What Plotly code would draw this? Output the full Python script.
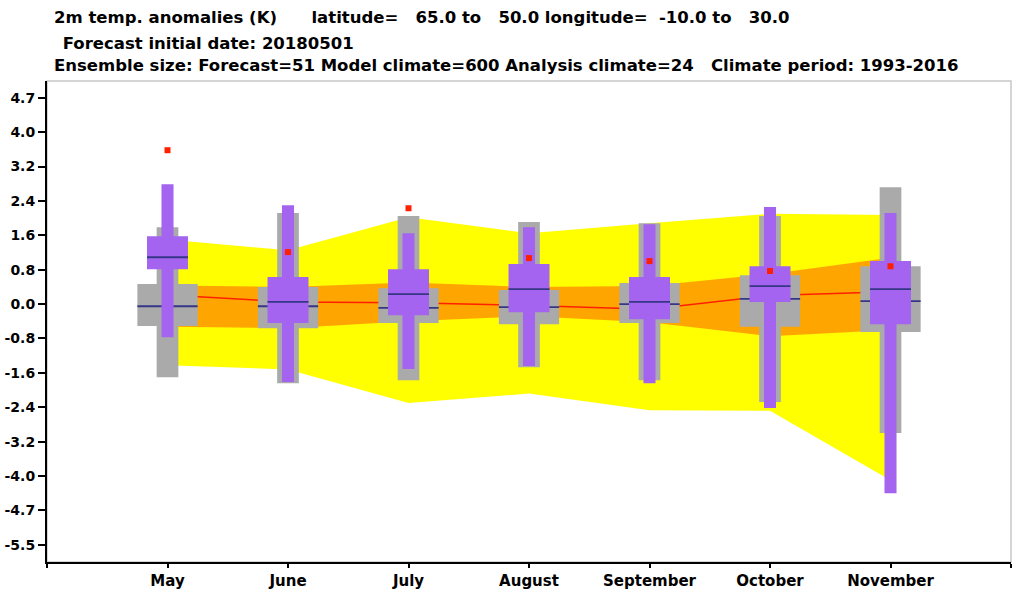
import plotly.graph_objects as go

# ---------------- data ----------------
months = ["May", "June", "July", "August", "September", "October", "November"]
month_pos = [1, 2, 3, 4, 5, 6, 7]

# analysis climate (shading): min/max, quartiles, median
ana_max = [1.50, 1.25, 2.02, 1.65, 1.88, 2.10, 2.07]
ana_q75 = [0.43, 0.40, 0.50, 0.40, 0.42, 0.70, 1.08]
ana_med = [0.21, 0.05, 0.03, -0.03, -0.12, 0.20, 0.29]
ana_q25 = [-0.53, -0.56, -0.40, -0.28, -0.42, -0.75, -0.60]
ana_min = [-1.42, -1.52, -2.30, -2.08, -2.47, -2.48, -4.10]

# model climate (grey boxes)
mc_max = [1.79, 2.12, 2.05, 1.91, 1.88, 2.05, 2.72]
mc_q75 = [0.47, 0.40, 0.37, 0.33, 0.49, 0.67, 0.88]
mc_med = [-0.05, -0.05, -0.09, -0.07, 0.00, 0.12, 0.07]
mc_q25 = [-0.51, -0.56, -0.44, -0.47, -0.44, -0.53, -0.65]
mc_min = [-1.70, -1.84, -1.77, -1.47, -1.77, -2.28, -3.00]

# forecast (purple boxes)
fc_max = [2.79, 2.30, 1.65, 1.79, 1.86, 2.26, 2.12]
fc_q75 = [1.58, 0.63, 0.81, 0.93, 0.63, 0.88, 1.00]
fc_med = [1.09, 0.05, 0.23, 0.35, 0.05, 0.42, 0.35]
fc_q25 = [0.81, -0.44, -0.26, -0.19, -0.35, 0.05, -0.47]
fc_min = [-0.77, -1.81, -1.51, -1.44, -1.84, -2.42, -4.40]

# verifying analysis (red squares)
obs = [3.58, 1.21, 2.23, 1.07, 1.00, 0.77, 0.88]

y_tickvals = [-5.6, -4.8, -4.0, -3.2, -2.4, -1.6, -0.8, 0.0, 0.8, 1.6, 2.4, 3.2, 4.0, 4.8]
y_ticktext = ["-5.5", "-4.7", "-4.0", "-3.2", "-2.4", "-1.6", "-0.8", "0.0",
              "0.8", "1.6", "2.4", "3.2", "4.0", "4.7"]

title_lines = [
    "2m temp. anomalies (K)      latitude=   65.0 to   50.0 longitude=  -10.0 to   30.0",
    " Forecast initial date: 20180501",
    "Ensemble size: Forecast=51 Model climate=600 Analysis climate=24   Climate period: 1993-2016",
]

# ---------------- style ----------------
W, H = 1020, 598
ML, MR, MT, MB = 47, 9, 81, 36
PW, PH = W - ML - MR, H - MT - MB
FONT = "DejaVu Sans"
GREY = "#aaaaaa"
PURPLE = "#a464f0"
MEDCOL = "#363686"
YELLOW = "#ffff00"
ORANGE = "#ffa500"
RED = "#ff2000"
W_GREY_WIDE, W_GREY_NARROW = 0.50, 0.18
W_PUR_WIDE, W_PUR_NARROW = 0.34, 0.10


def rects(pos, lo, hi, width):
    xs, ys = [], []
    for p, a, b in zip(pos, lo, hi):
        x0, x1 = p - width / 2, p + width / 2
        xs += [x0, x1, x1, x0, x0, None]
        ys += [a, a, b, b, a, None]
    return xs, ys


def seg(pos, vals, width):
    xs, ys = [], []
    for p, v in zip(pos, vals):
        xs += [p - width / 2, p + width / 2, None]
        ys += [v, v, None]
    return xs, ys


def box_trace(pos, lo, hi, width, color):
    xs, ys = rects(pos, lo, hi, width)
    return go.Scatter(x=xs, y=ys, mode="lines", fill="toself", fillcolor=color,
                      line=dict(width=0, color=color), hoverinfo="skip",
                      showlegend=False)


fig = go.Figure()

# analysis climate envelopes
fig.add_trace(go.Scatter(x=month_pos + month_pos[::-1], y=ana_max + ana_min[::-1],
                         fill="toself", fillcolor=YELLOW, line=dict(width=0),
                         mode="lines", hoverinfo="skip", showlegend=False))
fig.add_trace(go.Scatter(x=month_pos + month_pos[::-1], y=ana_q75 + ana_q25[::-1],
                         fill="toself", fillcolor=ORANGE, line=dict(width=0),
                         mode="lines", hoverinfo="skip", showlegend=False))
fig.add_trace(go.Scatter(x=month_pos, y=ana_med, mode="lines",
                         line=dict(color=RED, width=1.5), showlegend=False))

# model climate boxes
fig.add_trace(box_trace(month_pos, mc_min, mc_max, W_GREY_NARROW, GREY))
fig.add_trace(box_trace(month_pos, mc_q25, mc_q75, W_GREY_WIDE, GREY))
sx, sy = seg(month_pos, mc_med, W_GREY_WIDE)
fig.add_trace(go.Scatter(x=sx, y=sy, mode="lines", line=dict(color=MEDCOL, width=1.8),
                         showlegend=False))

# forecast boxes
fig.add_trace(box_trace(month_pos, fc_min, fc_max, W_PUR_NARROW, PURPLE))
fig.add_trace(box_trace(month_pos, fc_q25, fc_q75, W_PUR_WIDE, PURPLE))
sx, sy = seg(month_pos, fc_med, W_PUR_WIDE)
fig.add_trace(go.Scatter(x=sx, y=sy, mode="lines", line=dict(color=MEDCOL, width=1.8),
                         showlegend=False))

# verifying analysis
fig.add_trace(go.Scatter(x=month_pos, y=obs, mode="markers",
                         marker=dict(symbol="square", size=6, color=RED, line=dict(width=0)),
                         showlegend=False))

# titles (page pixel positions)
title_x = [52, 55, 52]
title_y = [17, 43, 66]
for txt, px, py in zip(title_lines, title_x, title_y):
    fig.add_annotation(text=txt.replace(" ", "\u00a0"), xref="paper", yref="paper",
                       x=(px - ML) / PW, y=(H - MB - py) / PH,
                       xanchor="left", yanchor="middle", showarrow=False,
                       font=dict(family=FONT, size=16.5, color="black", weight="bold"))

# light frame (top/right)
fig.add_shape(type="rect", xref="paper", yref="paper", x0=0, x1=1, y0=0, y1=1,
              line=dict(color="#c8c8c8", width=1.5), layer="below")

fig.update_layout(
    width=W, height=H, margin=dict(l=ML, r=MR, t=MT, b=MB),
    paper_bgcolor="white", plot_bgcolor="white", showlegend=False,
    xaxis=dict(range=[0, 8], tickvals=[0] + month_pos + [8],
               ticktext=[""] + months + [""], ticks="outside", ticklen=4,
               tickwidth=1.5, tickcolor="black", showline=True, linecolor="black",
               linewidth=2, showgrid=False, zeroline=False, automargin=False,
               tickfont=dict(family=FONT, size=15, color="black", weight="bold")),
    yaxis=dict(range=[-6.0, 5.19], tickvals=y_tickvals, ticktext=y_ticktext,
               ticks="outside", ticklen=7, tickwidth=1.5, tickcolor="black",
               showline=True, linecolor="black", linewidth=2, showgrid=False,
               zeroline=False, automargin=False,
               tickfont=dict(family=FONT, size=14, color="black", weight="bold")),
)

fig.write_html(
    "out.html",
    config={"displayModeBar": False},
    post_script="document.body.style.margin='0';document.body.style.overflow='hidden';",
)
